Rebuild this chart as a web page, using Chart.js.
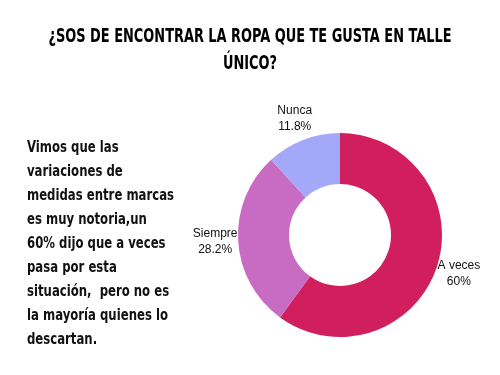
<!DOCTYPE html>
<html>
<head>
<meta charset="utf-8">
<script src="https://cdn.jsdelivr.net/npm/chart.js@4"></script>
<style>
  body { margin: 0; background: #fff; }
  #wrap { position: relative; width: 500px; height: 375px; overflow: hidden; }
  #title {
    position: absolute; left: -150px; top: 22px; width: 800px; text-align: center;
    font-family: "DejaVu Sans Condensed", sans-serif;
    font-weight: bold; font-size: 19px; line-height: 27px; color: #000;
    white-space: nowrap; transform-origin: 400px 0;
  }
  #note {
    position: absolute; left: 27px; top: 135px;
    font-family: "DejaVu Sans Condensed", sans-serif;
    font-weight: bold; font-size: 15px; line-height: 24px; color: #111;
    white-space: pre; transform-origin: 0 0;
  }
  #chart { position: absolute; left: 0; top: 0; }
</style>
</head>
<body>
<div id="wrap">
  <canvas id="chart" width="500" height="375"></canvas>
  <div id="title"><span id="t1">¿SOS DE ENCONTRAR LA ROPA QUE TE GUSTA EN TALLE</span><br>ÚNICO?</div>
  <div id="note">Vimos que las
variaciones de
medidas entre marcas
es muy notoria,un
60% dijo que a veces
pasa por esta
situación,  pero no es
la mayoría quienes lo
descartan.</div>
</div>
<script>
// squeeze the text to the condensed look of the original
const t1 = document.getElementById('t1').getBoundingClientRect().width;
document.getElementById('title').style.transform = 'scaleX(' + (403 / t1) + ')';
const probe = document.createElement('span');
probe.textContent = 'medidas entre marcas';
probe.style.cssText = 'position:absolute;visibility:hidden;white-space:pre';
document.getElementById('note').appendChild(probe);
const nw = probe.getBoundingClientRect().width;
probe.remove();
document.getElementById('note').style.transform = 'scaleX(' + (147 / nw) + ')';

// Respuestas
const labels = ['A veces', 'Siempre', 'Nunca'];
const values = [60, 28.2, 11.8];
const colors = ['#D11F5E', '#C86CC3', '#A3A8F8'];

// labels outside the ring, two lines each
const outsideLabels = {
  id: 'outsideLabels',
  afterDatasetsDraw(chart) {
    const ctx = chart.ctx;
    const arcs = chart.getDatasetMeta(0).data;
    ctx.save();
    ctx.font = '12px "Liberation Sans", Arial, sans-serif';
    ctx.fillStyle = '#111';
    ctx.textAlign = 'center';
    ctx.textBaseline = 'middle';
    arcs.forEach((arc, i) => {
      const p = arc.getProps(['x', 'y', 'startAngle', 'endAngle', 'outerRadius'], true);
      const mid = (p.startAngle + p.endAngle) / 2;
      const r = p.outerRadius + 23;
      const x = p.x + Math.cos(mid) * r;
      const y = p.y + Math.sin(mid) * r;
      ctx.fillText(labels[i], x, y - 8);
      ctx.fillText(values[i] + '%', x, y + 8);
    });
    ctx.restore();
  }
};

const ctx1 = document.getElementById('chart').getContext('2d');
new Chart(ctx1, {
  type: 'doughnut',
  data: {
    labels: labels,
    datasets: [{
      data: values,
      backgroundColor: colors,
      borderWidth: 0
    }]
  },
  options: {
    responsive: false,
    animation: false,
    cutout: '50%',
    layout: { padding: { left: 238, right: 58, top: 133, bottom: 38 } },
    plugins: { legend: { display: false }, tooltip: { enabled: false } }
  },
  plugins: [outsideLabels]
});
</script>
</body>
</html>
